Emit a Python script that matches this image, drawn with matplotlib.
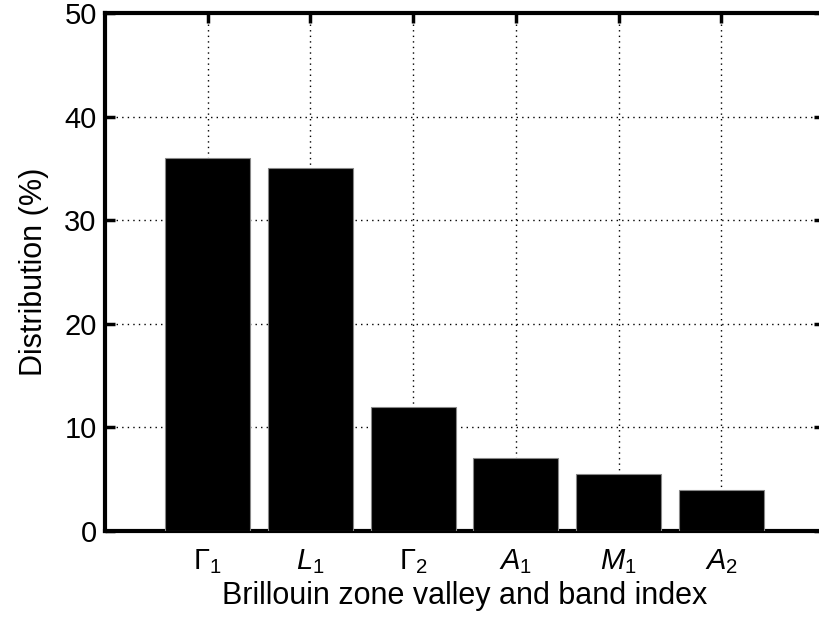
import numpy as np
import matplotlib.pyplot as plt

plt.rcParams['font.family'] = ['Liberation Sans', 'DejaVu Sans']
plt.rcParams['mathtext.fontset'] = 'custom'
plt.rcParams['mathtext.rm'] = 'Liberation Sans'
plt.rcParams['mathtext.it'] = 'Liberation Sans:italic'
plt.rcParams['mathtext.default'] = 'rm'

# valley / band occupation
labels = [r'$\Gamma_1$', r'$\mathit{L}_1$', r'$\Gamma_2$',
          r'$\mathit{A}_1$', r'$\mathit{M}_1$', r'$\mathit{A}_2$']
distribution = [36.0, 35.0, 12.0, 7.0, 5.5, 4.0]

x = np.arange(1, len(distribution) + 1)

fig = plt.figure(figsize=(8.2, 6.3), dpi=100)
ax = fig.add_axes([105 / 820, 1 - 531 / 630, 719 / 820, 518 / 630])

ax.bar(x, distribution, width=0.83, color='black', edgecolor='#888888',
       linewidth=0.8, zorder=3)

ax.set_xlim(0, 7)
ax.set_ylim(0, 50)
ax.set_xticks(x)
ax.set_xticklabels(labels)
ax.set_yticks(np.arange(0, 51, 10))

ax.grid(True, color='black', linestyle=(0, (1, 3)), linewidth=1.0, zorder=0)
ax.set_axisbelow(True)

for side in ['left', 'top', 'bottom', 'right']:
    ax.spines[side].set_linewidth(3)
ax.tick_params(direction='in', top=True, right=True, length=7, width=2.5,
               labelsize=21)
ax.tick_params(axis='y', pad=6)
ax.tick_params(axis='x', pad=12)

ax.set_ylabel('Distribution (%)', fontsize=22, labelpad=11)
ax.set_xlabel('Brillouin zone valley and band index', fontsize=22, labelpad=3)

fig.savefig('out.png', dpi=100)
